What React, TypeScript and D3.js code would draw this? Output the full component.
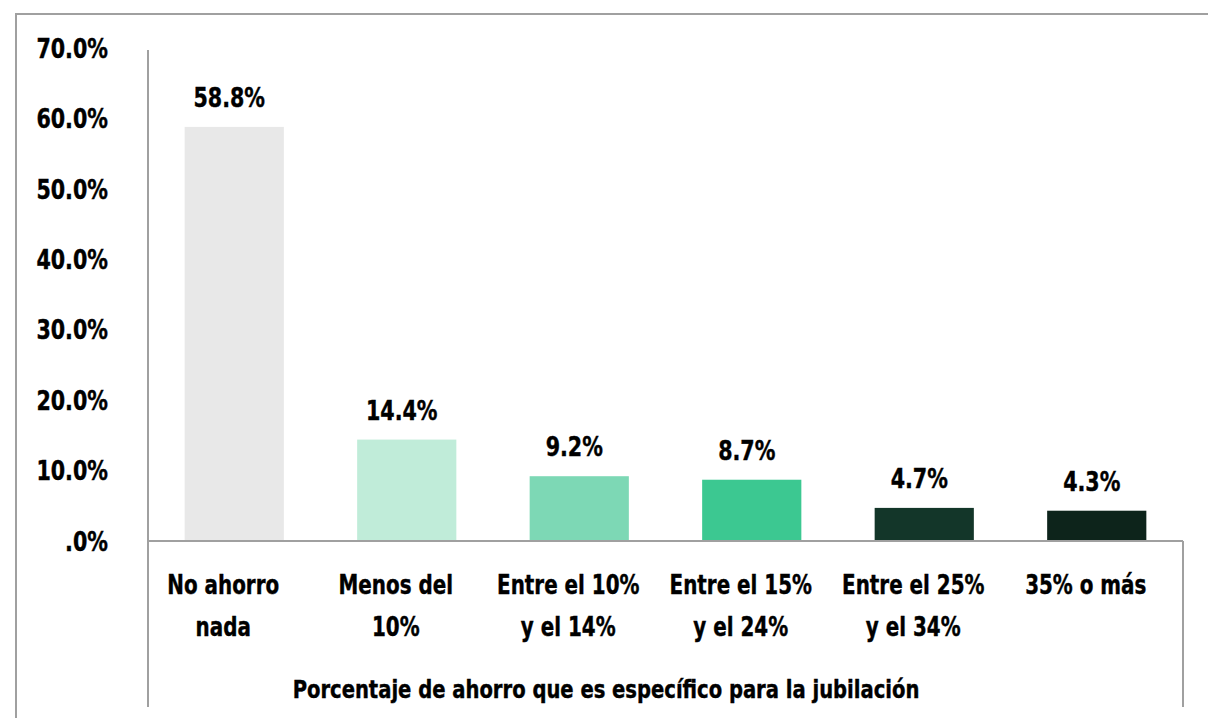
import * as d3 from 'd3';

const categories = [
  ['No ahorro', 'nada'],
  ['Menos del', '10%'],
  ['Entre el 10%', 'y el 14%'],
  ['Entre el 15%', 'y el 24%'],
  ['Entre el 25%', 'y el 34%'],
  ['35% o más'],
];
const values = [58.8, 14.4, 9.2, 8.7, 4.7, 4.3];
const barColors = ['#E8E8E8', '#C0ECD9', '#7DD8B5', '#3CC891', '#133629', '#0D241B'];
const yTicks = [0, 10, 20, 30, 40, 50, 60, 70];
const axisTitle = 'Porcentaje de ahorro que es específico para la jubilación';

const W = 1208;
const H = 718;
const FONT = '"DejaVu Sans Condensed", "Liberation Sans Narrow", sans-serif';

// condensed text: DejaVu Condensed squeezed horizontally to mimic a bold condensed face
function CText({ x, y, anchor = 'middle', size = 27, sx = 0.82, dy = '0', children }: any) {
  return (
    <text transform={`translate(${x},${y}) scale(${sx},1)`} textAnchor={anchor} fontSize={size} dy={dy}
      fill="#000" stroke="#000" strokeWidth={0.4}>
      {children}
    </text>
  );
}

export default function App() {
  const left = 148, right = 1183, top = 48, bottom = 541;
  const x = d3.scaleBand<number>().domain(d3.range(categories.length)).range([left, right]).paddingInner(0.425).paddingOuter(0.2125);
  const y = d3.scaleLinear().domain([0, 70]).range([bottom, top]);
  const fmt = (v: number) => (v === 0 ? '.0%' : `${v.toFixed(1)}%`);
  const cx = (i: number) => (x(i) ?? 0) + x.bandwidth() / 2;

  return (
    <svg width={W} height={H} style={{ position: 'absolute', left: 0, top: 0, display: 'block', background: '#fff' }} fontFamily={FONT} fontWeight="bold">
      {/* outer frame */}
      <line x1={15} x2={W} y1={14} y2={14} stroke="#A0A0A0" strokeWidth={2} />
      <line x1={16} x2={16} y1={13} y2={H} stroke="#A0A0A0" strokeWidth={2} />

      {/* y ticks */}
      {yTicks.map(t => (
        <CText key={t} x={108} y={y(t)} dy="0.36em" anchor="end" sx={0.85}>{fmt(t)}</CText>
      ))}

      {/* bars */}
      {values.map((v, i) => (
        <g key={i}>
          <rect x={x(i)} y={y(v)} width={x.bandwidth()} height={y(0) - y(v)} fill={barColors[i]} />
          <CText x={cx(i) - 5} y={y(v) - 20} sx={0.85}>{fmt(v)}</CText>
        </g>
      ))}

      {/* axes */}
      <line x1={left} x2={left} y1={50} y2={707} stroke="#A0A0A0" strokeWidth={2} />
      <line x1={left} x2={right} y1={bottom} y2={bottom} stroke="#A0A0A0" strokeWidth={2} />
      <line x1={right} x2={right} y1={bottom} y2={707} stroke="#A0A0A0" strokeWidth={2} />

      {/* category labels */}
      {categories.map((lines, i) => (
        <g key={i}>
          {lines.map((l, j) => (
            <CText key={j} x={cx(i) - 11} y={594 + j * 42}>{l}</CText>
          ))}
        </g>
      ))}

      <CText x={606} y={698} size={25} sx={0.87}>{axisTitle}</CText>
    </svg>
  );
}
